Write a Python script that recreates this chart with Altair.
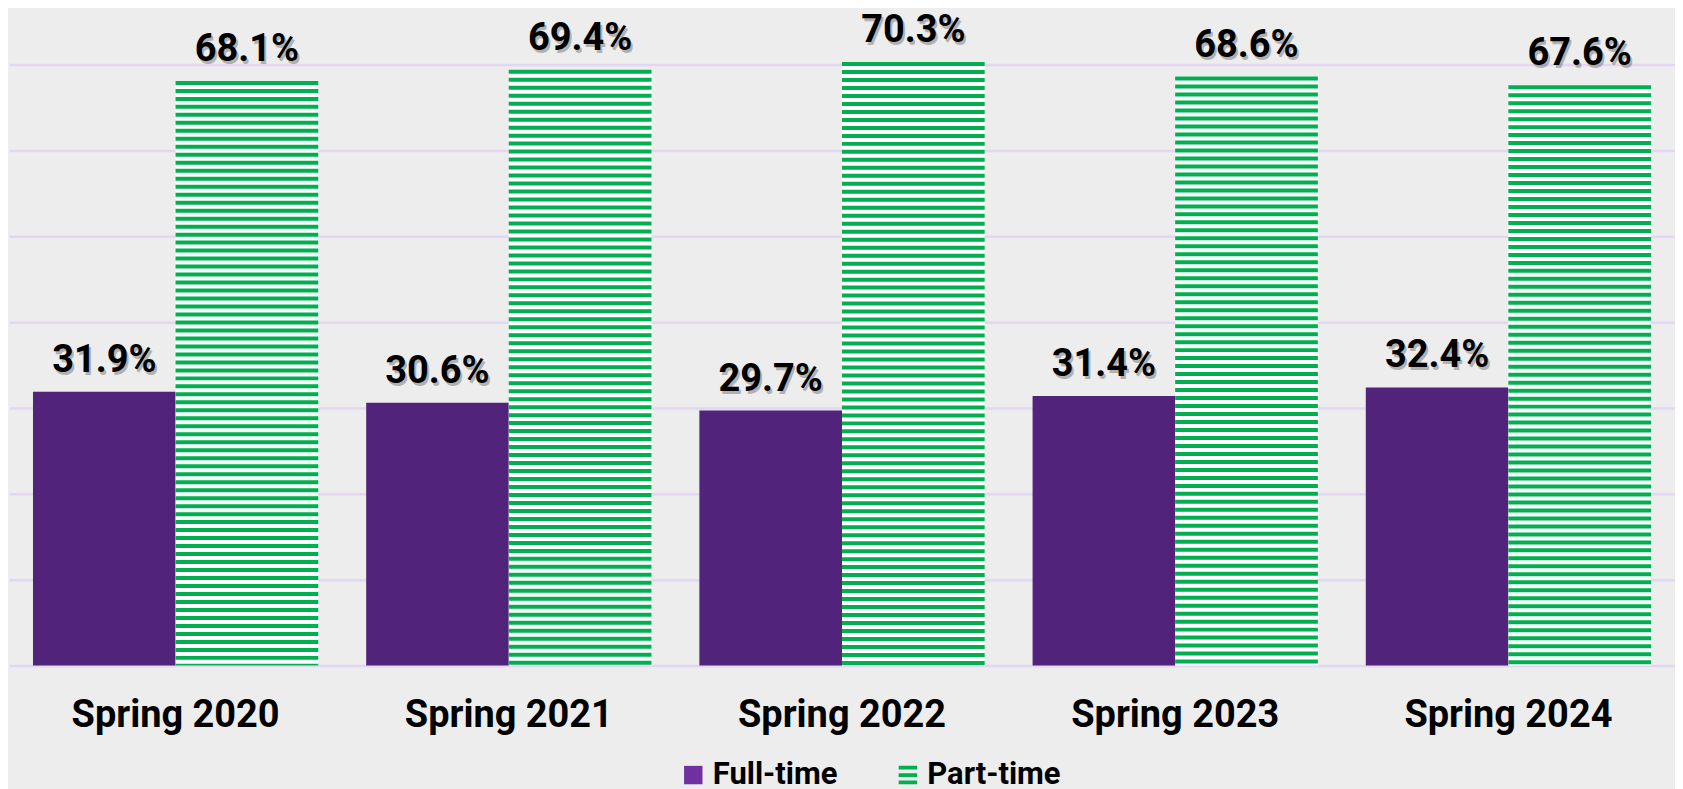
import altair as alt
import pandas as pd

categories = ["Spring 2020", "Spring 2021", "Spring 2022", "Spring 2023", "Spring 2024"]
full_time = [31.9, 30.6, 29.7, 31.4, 32.4]
part_time = [68.1, 69.4, 70.3, 68.6, 67.6]
series_names = ["Full-time", "Part-time"]
grid_values = [0, 10, 20, 30, 40, 50, 60, 70]

rows = []
for c, f, p in zip(categories, full_time, part_time):
    rows.append({"term": c, "series": "Full-time", "value": f})
    rows.append({"term": c, "series": "Part-time", "value": p})
df = pd.DataFrame(rows)

FONT = "Roboto"
PURPLE_BAR = "#51237A"
PURPLE_LEG = "#7030A0"
GREEN = "#00B050"
STRIPE_PATH = ("M-1,-1H1V-0.6H-1Z "
               "M-1,-0.2H1V0.2H-1Z "
               "M-1,0.6H1V1H-1Z")

x_axis = alt.Axis(title=None, labelAngle=0, labelFont=FONT, labelFontSize=38,
                  labelFontWeight="bold", labelColor="black", labelPadding=61,
                  labelBaseline="alphabetic", labelLimit=0, domain=False, ticks=False,
                  tickSize=0, grid=False)
y_axis = alt.Axis(title=None, values=grid_values, labels=False, ticks=False,
                  domain=False, grid=True, gridColor="#E2D6F4", gridWidth=2.5)

x_enc = alt.X("term:N", sort=categories,
              scale=alt.Scale(paddingInner=0.144, paddingOuter=0.072), axis=x_axis)
xo_enc = alt.XOffset("series:N", sort=series_names,
                     scale=alt.Scale(domain=series_names, paddingInner=0, paddingOuter=0))
y_scale = alt.Scale(domain=[0, 70], nice=False, zero=True)

base = alt.Chart(df)

legend = alt.Legend(title=None, orient="none", legendX=670, legendY=696,
                    direction="horizontal", labelFont=FONT, labelFontSize=31,
                    labelFontWeight="bold", labelColor="black", symbolSize=340,
                    labelOffset=4, columnPadding=55, symbolStrokeWidth=0,
                    labelLimit=0)

# hidden points (behind bars) that carry the legend
legend_pts = base.transform_calculate(half="datum.value / 2").mark_point(
    filled=True, opacity=1, size=340
).encode(
    x=x_enc, xOffset=xo_enc,
    y=alt.Y("half:Q", scale=y_scale, axis=y_axis),
    color=alt.Color("series:N", sort=series_names,
                    scale=alt.Scale(domain=series_names, range=[PURPLE_LEG, GREEN]),
                    legend=legend),
    shape=alt.Shape("series:N", sort=series_names,
                    scale=alt.Scale(domain=series_names, range=["square", STRIPE_PATH]),
                    legend=legend),
)

full_bars = base.transform_filter(alt.datum.series == "Full-time").mark_bar(
    color=PURPLE_BAR
).encode(
    x=x_enc, xOffset=xo_enc,
    y=alt.Y("value:Q", scale=y_scale, axis=y_axis),
)

part_bg = base.transform_filter(alt.datum.series == "Part-time").mark_bar(
    color="white"
).encode(
    x=x_enc, xOffset=xo_enc,
    y=alt.Y("value:Q", scale=y_scale, axis=y_axis),
)

part_stripes = base.transform_filter(alt.datum.series == "Part-time").transform_calculate(
    zero="0"
).mark_rule(color=GREEN, strokeWidth=143, strokeDash=[4, 4], strokeCap="butt").encode(
    x=x_enc, xOffset=xo_enc,
    y=alt.Y("value:Q", scale=y_scale, axis=y_axis),
    y2="zero:Q",
)

label_fmt = "format(datum.value, '.1f') + '%'"

shadow = base.transform_calculate(lab=label_fmt).mark_text(
    font=FONT, fontSize=38, fontWeight="bold", color="#444444", opacity=0.35,
    baseline="alphabetic", dx=2, dy=-17
).encode(
    x=x_enc, xOffset=xo_enc,
    y=alt.Y("value:Q", scale=y_scale, axis=y_axis),
    text="lab:N",
)

labels = base.transform_calculate(lab=label_fmt).mark_text(
    font=FONT, fontSize=38, fontWeight="bold", color="black",
    baseline="alphabetic", dy=-20
).encode(
    x=x_enc, xOffset=xo_enc,
    y=alt.Y("value:Q", scale=y_scale, axis=y_axis),
    text="lab:N",
)

chart = alt.layer(legend_pts, full_bars, part_bg, part_stripes, shadow, labels).properties(
    width=1669, height=602,
    autosize=alt.AutoSizeParams(type="none"),
    padding={"left": 1, "top": 56, "right": 0, "bottom": 123},
    background="#EDEDED",
).configure_view(stroke=None)

chart.save("out.html", embed_options={"renderer": "svg", "actions": False})
